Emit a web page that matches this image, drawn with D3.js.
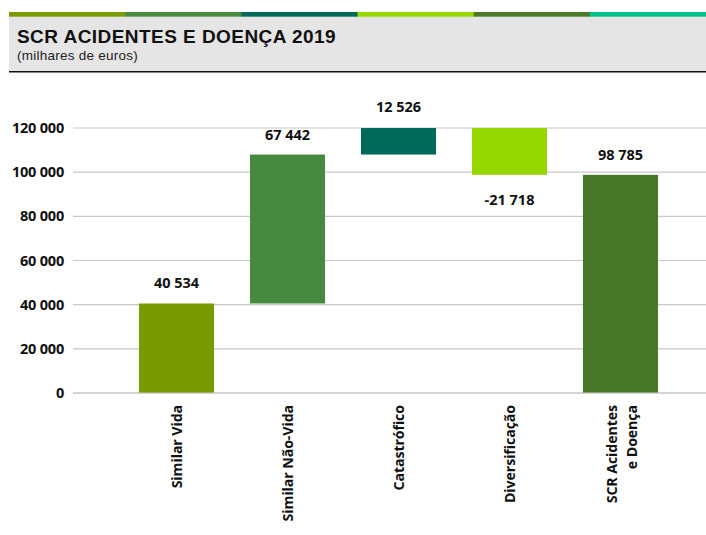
<!DOCTYPE html>
<html><head><meta charset="utf-8">
<script src="https://cdn.jsdelivr.net/npm/d3@7"></script>
<style>body{margin:0;background:#fff}svg{display:block}</style>
</head><body>
<svg id="c" width="706" height="535"></svg>
<script>
const categories = ["Similar Vida","Similar Não-Vida","Catastrófico","Diversificação","SCR Acidentes\ne Doença"];
const values = [40534, 67442, 12526, -21718, 98785];
const isTotal = [false,false,false,false,true];
const barColors = ["#7a9a01","#478a3f","#006a5a","#97d700","#4a782b"];
const stripeColors = ["#7a9a01","#4a8a3f","#006b5a","#97d700","#4c7a2c","#00c08b"];
const yTicks = [0,20000,40000,60000,80000,100000,120000];
const title = "SCR ACIDENTES E DOENÇA 2019";
const subtitle = "(milhares de euros)";

const svg = d3.select("#c");
const F = "'Open Sans', Roboto, sans-serif";
const FT = "'Liberation Sans', Arial, sans-serif";
const fmt = v => d3.format(",")(v).replace(/,/g," ").replace("\u2212","-");

// header
const sx = d3.scaleBand().domain(d3.range(stripeColors.length)).range([9,706]);
svg.append("rect").attr("x",9).attr("y",16.5).attr("width",697).attr("height",55).attr("fill","#e5e5e5");
svg.selectAll(".st").data(stripeColors).join("rect")
  .attr("x",(d,i)=>sx(i)).attr("y",12).attr("width",sx.bandwidth()+0.5).attr("height",4.7).attr("fill",d=>d);
svg.append("line").attr("x1",9).attr("x2",706).attr("y1",71.7).attr("y2",71.7).attr("stroke","#111").attr("stroke-width",1.6);
svg.append("text").attr("x",17).attr("y",43).attr("font-family",FT).attr("font-weight",700)
  .attr("font-size",19).attr("letter-spacing",0.45).attr("fill","#111").text(title);
svg.append("text").attr("x",17).attr("y",60).attr("font-family",FT)
  .attr("font-size",13.5).attr("letter-spacing",0.25).attr("fill","#222").text(subtitle);

// scales
const y = d3.scaleLinear().domain([0,120000]).range([393,128]);
const x = d3.scaleBand().domain(categories).range([121,676]).paddingInner(0.324).paddingOuter(0.162);

// gridlines
svg.append("g").selectAll("line").data(yTicks).join("line")
  .attr("x1",73).attr("x2",706).attr("y1",d=>y(d)).attr("y2",d=>y(d))
  .attr("stroke","#c8c8c8").attr("stroke-width",1.2);

// y axis labels
const ya = svg.append("g").attr("transform","translate(64,0)")
  .call(d3.axisLeft(y).tickValues(yTicks).tickSize(0).tickPadding(0).tickFormat(fmt));
ya.select(".domain").remove();
ya.selectAll("text").attr("font-family",F).attr("font-weight",700).attr("font-size",14.5).attr("fill","#111").attr("letter-spacing",-0.2);

// waterfall
let cum = 0;
const bars = categories.map((c,i)=>{
  let lo, hi;
  if(isTotal[i]){ lo=0; hi=values[i]; cum=values[i]; }
  else { const s=cum; cum+=values[i]; lo=Math.min(s,cum); hi=Math.max(s,cum); }
  return {c, v:values[i], lo, hi, col:barColors[i]};
});
svg.append("clipPath").attr("id","pc").append("rect").attr("x",0).attr("y",y(120000)).attr("width",706).attr("height",y(0)-y(120000));
svg.append("g").attr("clip-path","url(#pc)").selectAll("rect").data(bars).join("rect")
  .attr("x",d=>x(d.c)).attr("width",x.bandwidth())
  .attr("y",d=>y(d.hi)).attr("height",d=>y(d.lo)-y(d.hi)).attr("fill",d=>d.col);
svg.append("line").attr("x1",73).attr("x2",706).attr("y1",y(0)).attr("y2",y(0)).attr("stroke","#c8c8c8").attr("stroke-width",1.2);

// value labels
svg.append("g").selectAll("text").data(bars).join("text")
  .attr("x",d=>x(d.c)+x.bandwidth()/2)
  .attr("y",d=>d.v>=0 ? y(d.hi)-15 : y(d.lo)+30)
  .attr("text-anchor","middle").attr("font-family",F).attr("font-weight",700)
  .attr("font-size",14.5).attr("letter-spacing",0).attr("fill","#111").text(d=>fmt(d.v));

// category labels
const cg = svg.append("g").selectAll("g").data(categories).join("g")
  .attr("transform",d=>`translate(${x(d)+x.bandwidth()/2},405) rotate(-90)`);
cg.each(function(d){
  const lines=d.split("\n");
  const g=d3.select(this);
  lines.forEach((ln,j)=>{
    g.append("text").attr("x",0).attr("y",lines.length>1 ? (j-0.5)*20+6.5 : 5.5)
      .attr("text-anchor","end").attr("font-family",F).attr("font-weight",700)
      .attr("font-size",14.2).attr("letter-spacing",-0.1).attr("fill","#111").text(ln);
  });
});
</script>
</body></html>
